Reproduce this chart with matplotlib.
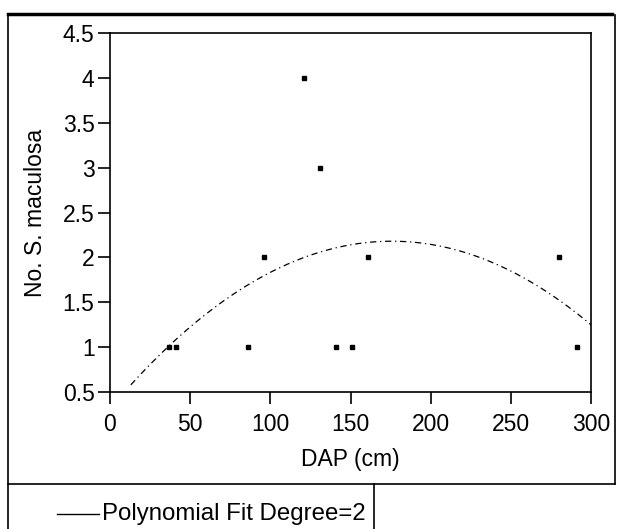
import numpy as np
import matplotlib
matplotlib.use("Agg")
import matplotlib.pyplot as plt
from matplotlib.lines import Line2D

plt.rcParams['font.family'] = ['Liberation Sans', 'DejaVu Sans']

# data
dap = [37, 41, 86, 96, 121, 131, 141, 151, 161, 280, 291]
n_maculosa = [1, 1, 1, 2, 4, 3, 1, 1, 2, 2, 1]

# polynomial fit (degree 2) coefficients: a + b*x + c*x^2
fit_coef = [0.314, 0.02123, -6.038e-5]
fit_range = [13, 300]

W, H = 629, 529
FS = 16.5
fig = plt.figure(figsize=(W / 100, H / 100), dpi=100)
ax = fig.add_axes([110 / W, 1 - 392 / H, (591 - 110) / W, (392 - 33) / H])

xf = np.linspace(fit_range[0], fit_range[1], 200)
yf = fit_coef[0] + fit_coef[1] * xf + fit_coef[2] * xf ** 2
ax.plot(xf, yf, color="black", lw=0.9, ls=(0, (5, 3, 1, 3)))
ax.plot(dap, n_maculosa, ls="none", marker="s", ms=2.6, color="black")

ax.set_xlim(0, 300)
ax.set_ylim(0.5, 4.5)
ax.set_xticks(np.arange(0, 301, 50))
ax.set_yticks(np.arange(0.5, 4.51, 0.5))
ax.set_yticklabels(["0.5", "1", "1.5", "2", "2.5", "3", "3.5", "4", "4.5"])
ax.tick_params(direction="out", length=8.6, width=1.2, labelsize=FS)
ax.tick_params(axis="x", pad=6.5)
ax.tick_params(axis="y", pad=2.5)
for s in ax.spines.values():
    s.set_linewidth(1.2)
ax.set_xlabel("DAP (cm)", fontsize=FS, labelpad=9)
ax.set_ylabel("No. S. maculosa", fontsize=FS, labelpad=11)

# outer frame and legend box
def pline(xs, ys, lw=1.2):
    fig.add_artist(Line2D([x / W for x in xs], [1 - y / H for y in ys],
                          color="black", lw=lw, transform=fig.transFigure))

pline([8, 612], [13.5, 13.5], lw=2.5)
pline([8, 8], [14, 529])
pline([615, 615], [15, 484])
pline([8, 615], [484, 484])
pline([374, 374], [484, 529])

fig.add_artist(Line2D([57 / W, 99 / W], [1 - 514 / H, 1 - 514 / H],
                      color="black", lw=1, transform=fig.transFigure))
fig.text(102 / W, 1 - 514 / H, "Polynomial Fit Degree=2", fontsize=17.3,
         va="center", ha="left")

fig.savefig("out.png", dpi=100)
